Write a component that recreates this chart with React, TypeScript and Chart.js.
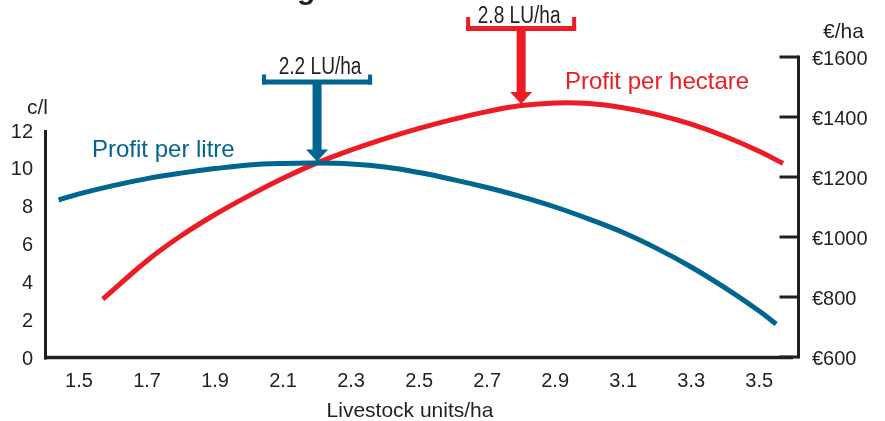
import React, { useEffect, useRef } from 'react';
import { Chart, registerables } from 'chart.js';

Chart.register(...registerables);

// ---- data ----
const xTicks = [1.5, 1.7, 1.9, 2.1, 2.3, 2.5, 2.7, 2.9, 3.1, 3.3, 3.5];
const litreTicks = [0, 2, 4, 6, 8, 10, 12];
const hectareTicks = [600, 800, 1000, 1200, 1400, 1600];

const litreX = [1.44, 1.5, 1.6, 1.7, 1.8, 1.9, 2.0, 2.1, 2.2, 2.3, 2.4, 2.5, 2.6, 2.7, 2.8, 2.9, 3.0, 3.1, 3.2, 3.3, 3.4, 3.5, 3.55];
const profitPerLitre = [8.3, 8.62, 9.06, 9.43, 9.72, 9.96, 10.15, 10.23, 10.25, 10.2, 10.04, 9.75, 9.38, 8.96, 8.48, 7.93, 7.29, 6.58, 5.73, 4.76, 3.65, 2.43, 1.74];

const hectareX = [1.57, 1.7, 1.8, 1.9, 2.0, 2.1, 2.2, 2.3, 2.4, 2.5, 2.6, 2.7, 2.8, 2.9, 3.0, 3.1, 3.2, 3.3, 3.4, 3.5, 3.57];
const profitPerHectare = [793, 921, 1004, 1075, 1138, 1196, 1247, 1290, 1328, 1362, 1392, 1418, 1438, 1447, 1445, 1431, 1408, 1376, 1335, 1286, 1245];

const seriesLabels = ['Profit per litre', 'Profit per hectare'];
const markerX = [2.2, 2.8];
const markerLabels = ['2.2 LU/ha', '2.8 LU/ha'];
const axisLabels = { x: 'Livestock units/ha', left: 'c/l', right: '€/ha' };

// ---- style ----
const BLUE = '#00658f';
const RED = '#ed1c24';
const INK = '#231f20';
const SANS = "'Liberation Sans', Arial, Helvetica, sans-serif";

const decorPlugin = {
  id: 'decor',
  afterDatasetsDraw(chart: any) {
    const { ctx, chartArea, scales } = chart;
    const xs = scales.x;
    const yL = scales.yLitre;
    const yR = scales.yHectare;
    ctx.save();

    // axes
    ctx.strokeStyle = INK;
    ctx.lineCap = 'butt';
    ctx.lineWidth = 3;
    const lx = chartArea.left + 0.5;
    ctx.beginPath();
    ctx.moveTo(lx, yL.getPixelForValue(12));
    ctx.lineTo(lx, chartArea.bottom + 2.5);
    ctx.stroke();

    ctx.lineWidth = 3.5;
    ctx.beginPath();
    ctx.moveTo(chartArea.left - 1, chartArea.bottom + 0.5);
    ctx.lineTo(chartArea.right - 7, chartArea.bottom + 0.5);
    ctx.stroke();

    ctx.lineWidth = 3;
    const rx = chartArea.right - 1.5;
    ctx.beginPath();
    ctx.moveTo(rx, yR.getPixelForValue(1600) - 1.5);
    ctx.lineTo(rx, yR.getPixelForValue(600) + 1.5);
    ctx.stroke();
    hectareTicks.forEach((v) => {
      const y = yR.getPixelForValue(v);
      ctx.beginPath();
      ctx.moveTo(rx - 19, y);
      ctx.lineTo(rx, y);
      ctx.stroke();
    });

    // axis titles
    ctx.fillStyle = INK;
    ctx.textBaseline = 'alphabetic';
    ctx.font = `21px ${SANS}`;
    ctx.textAlign = 'left';
    ctx.fillText(axisLabels.left, 27, 114);
    ctx.fillText(axisLabels.right, 823, 38);
    ctx.textAlign = 'center';
    ctx.fillText(axisLabels.x, 410, 417);

    // clipped title fragment
    ctx.font = `bold 30px ${SANS}`;
    ctx.textAlign = 'left';
    ctx.fillText('g', 297, -1);

    // series labels
    ctx.font = `24px ${SANS}`;
    ctx.fillStyle = BLUE;
    ctx.fillText(seriesLabels[0], 92, 157);
    ctx.fillStyle = RED;
    ctx.fillText(seriesLabels[1], 565, 89);

    // markers
    const marks = [
      { color: BLUE, barY: 82, rise: 5, textY: 74, xsArr: litreX, ysArr: profitPerLitre, scale: yL, dx: 3 },
      { color: RED, barY: 28.5, rise: 9, textY: 23, xsArr: hectareX, ysArr: profitPerHectare, scale: yR, dx: -2 },
    ];
    marks.forEach((m, i) => {
      const cx = xs.getPixelForValue(markerX[i]);
      const idx = m.xsArr.findIndex((v) => Math.abs(v - markerX[i]) < 1e-9);
      const tip = m.scale.getPixelForValue(m.ysArr[idx]) - 1.5;
      const half = 55;
      const bh = 5;
      ctx.fillStyle = m.color;
      ctx.fillRect(cx - half, m.barY - bh / 2, half * 2, bh);
      ctx.fillRect(cx - half, m.barY - bh / 2 - m.rise, 4, m.rise + bh);
      ctx.fillRect(cx + half - 4, m.barY - bh / 2 - m.rise, 4, m.rise + bh);
      const headBase = tip - 12;
      ctx.fillRect(cx - 4.5, m.barY, 9, headBase - m.barY + 0.5);
      ctx.beginPath();
      ctx.moveTo(cx - 11, headBase);
      ctx.lineTo(cx + 11, headBase);
      ctx.lineTo(cx, tip);
      ctx.closePath();
      ctx.fill();

      // condensed label: horizontally compressed sans
      ctx.save();
      ctx.fillStyle = INK;
      ctx.font = `23px ${SANS}`;
      ctx.textAlign = 'center';
      ctx.translate(cx + m.dx, m.textY);
      ctx.scale(0.83, 1);
      ctx.fillText(markerLabels[i], 0, 0);
      ctx.restore();
    });

    ctx.restore();
  },
};

export default function App() {
  const ref = useRef<HTMLCanvasElement | null>(null);

  useEffect(() => {
    if (!ref.current) return;
    const tickFont = { family: SANS, size: 20 };
    const chart = new Chart(ref.current, {
      type: 'line',
      data: {
        datasets: [
          {
            label: seriesLabels[0],
            data: litreX.map((x, i) => ({ x, y: profitPerLitre[i] })),
            yAxisID: 'yLitre',
            borderColor: BLUE,
            borderWidth: 5,
            pointRadius: 0,
            tension: 0.4,
            borderCapStyle: 'butt',
            fill: false,
          },
          {
            label: seriesLabels[1],
            data: hectareX.map((x, i) => ({ x, y: profitPerHectare[i] })),
            yAxisID: 'yHectare',
            borderColor: RED,
            borderWidth: 5,
            pointRadius: 0,
            tension: 0.4,
            borderCapStyle: 'butt',
            fill: false,
          },
        ],
      },
      options: {
        animation: false,
        responsive: false,
        devicePixelRatio: 1,
        layout: { padding: { top: 57, left: 0, right: 0, bottom: 0 } },
        plugins: {
          legend: { display: false },
          tooltip: { enabled: false },
          title: { display: false },
        },
        scales: {
          x: {
            type: 'linear',
            min: 1.4,
            max: 3.62,
            grid: { display: false, drawTicks: false },
            border: { display: false },
            afterBuildTicks: (s: any) => {
              s.ticks = xTicks.map((v) => ({ value: v }));
            },
            afterFit: (s: any) => {
              s.height = 64;
            },
            ticks: {
              font: tickFont,
              color: INK,
              padding: 12,
              maxRotation: 0,
              autoSkip: false,
              callback: (v: any) => Number(v).toFixed(1),
            },
          },
          yLitre: {
            type: 'linear',
            position: 'left',
            min: 0,
            max: 15.86,
            grid: { display: false, drawTicks: false },
            border: { display: false },
            afterBuildTicks: (s: any) => {
              s.ticks = litreTicks.map((v) => ({ value: v }));
            },
            afterFit: (s: any) => {
              s.width = 45;
            },
            ticks: { font: tickFont, color: INK, padding: 12, labelOffset: 2 },
          },
          yHectare: {
            type: 'linear',
            position: 'right',
            min: 600,
            max: 1600,
            grid: { display: false, drawTicks: false },
            border: { display: false },
            afterBuildTicks: (s: any) => {
              s.ticks = hectareTicks.map((v) => ({ value: v }));
            },
            afterFit: (s: any) => {
              s.width = 85;
            },
            ticks: {
              font: tickFont,
              color: INK,
              padding: 12,
              labelOffset: 2,
              callback: (v: any) => '€' + v,
            },
          },
        },
      },
      plugins: [decorPlugin],
    } as any);
    return () => chart.destroy();
  }, []);

  return (
    <div style={{ position: 'absolute', left: 0, top: 0, width: 885, height: 421, background: '#fff' }}>
      <canvas ref={ref} width={885} height={421} style={{ display: 'block', width: 885, height: 421 }} />
    </div>
  );
}
